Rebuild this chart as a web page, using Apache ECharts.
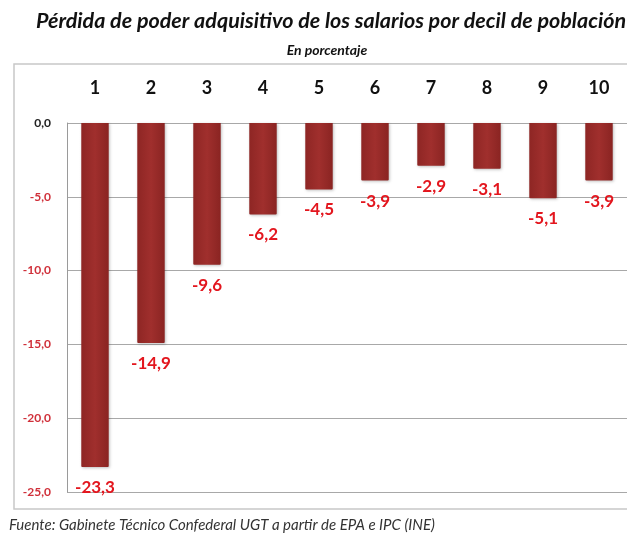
<!DOCTYPE html>
<html>
<head>
<meta charset="utf-8">
<script src="https://cdn.jsdelivr.net/npm/echarts@6/dist/echarts.min.js"></script>
<style>
  html, body { margin: 0; padding: 0; background: #fff; }
  #chart { width: 627px; height: 539px; }
</style>
</head>
<body>
<div id="chart"></div>
<script>
// deciles de población
const deciles = ['1', '2', '3', '4', '5', '6', '7', '8', '9', '10'];
// pérdida de poder adquisitivo (%)
const perdida = [-23.3, -14.9, -9.6, -6.2, -4.5, -3.9, -2.9, -3.1, -5.1, -3.9];

const FONT = 'Lato';
const barColor = '#a02f2d';
const labelRed = '#e3161e';
const fmt = (v) => v.toFixed(1).replace('.', ',');

const chart = echarts.init(document.getElementById('chart'));

const option = {
  animation: false,
  backgroundColor: '#fff',
  title: [
    {
      text: 'Pérdida de poder adquisitivo de los salarios por decil de población',
      left: 326,
      top: 5,
      textAlign: 'center',
      textStyle: {
        fontFamily: FONT,
        fontStyle: 'italic',
        fontWeight: 'bold',
        fontSize: 21.5,
        color: '#111'
      }
    },
    {
      text: 'En porcentaje',
      left: 322,
      top: 38,
      textAlign: 'center',
      textStyle: {
        fontFamily: FONT,
        fontStyle: 'italic',
        fontWeight: 'bold',
        fontSize: 14,
        color: '#111'
      }
    },
    {
      text: 'Fuente: Gabinete Técnico Confederal UGT a partir de EPA e IPC (INE)',
      left: 4,
      top: 513,
      textStyle: {
        fontFamily: FONT,
        fontStyle: 'italic',
        fontWeight: 'normal',
        fontSize: 15,
        color: '#333'
      }
    }
  ],
  graphic: [
    {
      type: 'rect',
      shape: { x: 14, y: 64, width: 640, height: 445 },
      style: { fill: 'none', stroke: '#c8c8c8', lineWidth: 1.5 },
      silent: true
    }
  ],
  grid: {
    left: 67,
    right: 0,
    top: 123,
    bottom: 47
  },
  xAxis: {
    type: 'category',
    position: 'top',
    data: deciles,
    axisLine: { show: false },
    axisTick: { show: false },
    axisLabel: {
      margin: 26,
      fontFamily: FONT,
      fontWeight: 'bold',
      fontSize: 18,
      color: '#111'
    }
  },
  yAxis: {
    type: 'value',
    min: -25,
    max: 0,
    interval: 5,
    axisLine: { show: true, lineStyle: { color: '#9a9a9a', width: 1 } },
    axisTick: { show: false },
    axisLabel: {
      margin: 16,
      fontFamily: FONT,
      fontWeight: 'bold',
      fontSize: 12,
      color: (v) => (v < 0 ? '#d0303a' : '#222'),
      formatter: (v) => fmt(v)
    },
    splitLine: { show: true, lineStyle: { color: '#a8a8a8', width: 1 } }
  },
  series: [
    {
      type: 'bar',
      data: perdida,
      barWidth: '49%',
      itemStyle: {
        color: new echarts.graphic.LinearGradient(0, 0, 1, 0, [
          { offset: 0, color: '#8e2624' },
          { offset: 0.5, color: barColor },
          { offset: 1, color: '#8a2422' }
        ]),
        borderRadius: [0, 0, 1, 1],
        shadowColor: 'rgba(0,0,0,0.25)',
        shadowBlur: 3,
        shadowOffsetX: 1,
        shadowOffsetY: 1
      },
      label: {
        show: true,
        position: 'bottom',
        distance: 12,
        formatter: (p) => fmt(p.value),
        fontFamily: FONT,
        fontWeight: 'bold',
        fontSize: 17,
        color: labelRed
      }
    }
  ]
};

chart.setOption(option);
</script>
</body>
</html>
